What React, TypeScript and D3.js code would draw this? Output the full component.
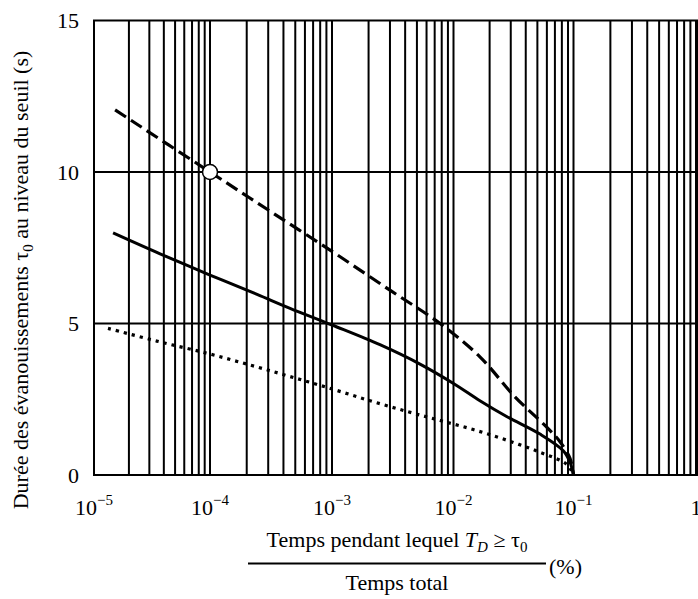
import React from "react";
import * as d3 from "d3";

// Tick values
const xTickExponents = [-5, -4, -3, -2, -1, 0];
const yTickValues = [0, 5, 10, 15];
const yGridValues = [5, 10];

// Series: dashed (upper)
const dashedX = [1.52e-5, 1e-4, 3.1e-4, 1e-3, 3.0e-3, 7.75e-3, 0.0166, 0.0325, 0.0598, 0.0772, 0.0935, 0.1];
const dashedY = [12.05, 10.0, 8.71, 7.38, 6.1, 5.0, 3.9, 2.58, 1.58, 1.1, 0.55, 0];

// Series: solid (middle)
const solidX = [1.46e-5, 3.71e-5, 1e-4, 2.43e-4, 4.53e-4, 1e-3, 2.48e-3, 5.3e-3, 1e-2, 0.0166, 0.0277, 0.0526, 0.0822, 0.0935, 0.1];
const solidY = [7.99, 7.3, 6.6, 5.96, 5.5, 4.95, 4.3, 3.66, 3.02, 2.45, 1.93, 1.35, 0.8, 0.42, 0];

// Series: dotted (lower)
const dottedX = [1.32e-5, 3.47e-5, 9.37e-5, 2.13e-4, 4.53e-4, 1e-3, 2.06e-3, 4.12e-3, 7.75e-3, 0.01462, 0.0277, 0.0526, 0.0878, 0.1];
const dottedY = [4.84, 4.42, 4.02, 3.63, 3.25, 2.84, 2.45, 2.1, 1.8, 1.5, 1.15, 0.75, 0.35, 0];

// Marked point
const markerX = [1e-4];
const markerY = [10];

const FF = '"Liberation Serif"';
const big = { fontFamily: FF, fontSize: "22px" };
const small = { fontFamily: FF, fontSize: "15px" };

export default function App() {
  const left = 94;
  const top = 20.5;
  const bottom = 475;
  const right = 697;

  const x = d3
    .scaleLog()
    .domain([1e-5, 1e-4, 1e-3, 1e-2, 1e-1, 1])
    .range([94, 210, 332, 453.5, 573.5, 696]);
  const y = d3.scaleLinear().domain([0, 15]).range([bottom, top]);

  const gridX: number[] = [];
  for (let e = -5; e < 0; e++) {
    for (let i = 1; i <= 9; i++) gridX.push(i * Math.pow(10, e));
  }
  gridX.push(1);

  const line = d3
    .line<[number, number]>()
    .x((d) => x(d[0]))
    .y((d) => y(d[1]))
    .curve(d3.curveCatmullRom.alpha(0.5));

  const zip = (a: number[], b: number[]) => a.map((v, i) => [v, b[i]] as [number, number]);

  return (
    <svg width={698} height={599} style={{ position: "absolute", left: 0, top: 0, fontFamily: FF }}>
      <rect x={0} y={0} width={698} height={599} fill="#fff" />
      {gridX.map((v, i) => (
        <line key={"gx" + i} x1={x(v)} x2={x(v)} y1={top} y2={bottom} stroke="#000" strokeWidth={2} />
      ))}
      {yGridValues.map((v) => (
        <line key={"gy" + v} x1={left} x2={right} y1={y(v)} y2={y(v)} stroke="#000" strokeWidth={2} />
      ))}
      <rect x={left} y={top} width={right - left} height={bottom - top} fill="none" stroke="#000" strokeWidth={2} />

      <path d={line(zip(dottedX, dottedY)) || ""} fill="none" stroke="#000" strokeWidth={3.2} strokeDasharray="3.2,5" />
      <path d={line(zip(solidX, solidY)) || ""} fill="none" stroke="#000" strokeWidth={3} />
      <path d={line(zip(dashedX, dashedY)) || ""} fill="none" stroke="#000" strokeWidth={3.2} strokeDasharray="13,6" />

      {markerX.map((v, i) => (
        <circle key={"m" + i} cx={x(v)} cy={y(markerY[i])} r={7.5} fill="#fff" stroke="#000" strokeWidth={1.5} />
      ))}

      {yTickValues.map((v) => (
        <text key={"yt" + v} style={big} x={79} y={y(v) + 7.5} textAnchor="end">
          {v}
        </text>
      ))}

      {xTickExponents.map((e) => (
        <text key={"xt" + e} style={big} x={x(Math.pow(10, e))} y={515} textAnchor="middle">
          {e === 0 ? (
            "1"
          ) : (
            <>
              10
              <tspan dy={-10} style={small}>
                {"\u2212" + Math.abs(e)}
              </tspan>
            </>
          )}
        </text>
      ))}

      <text style={big} x={397} y={547} textAnchor="middle">
        Temps pendant lequel{" "}
        <tspan fontStyle="italic">T</tspan>
        <tspan dy={5} style={small} fontStyle="italic">D</tspan>
        <tspan dy={-5}>{" \u2265 \u03c4"}</tspan>
        <tspan dy={5} style={small}>0</tspan>
      </text>
      <line x1={248} x2={546} y1={563.5} y2={563.5} stroke="#000" strokeWidth={2} />
      <text style={big} x={397} y={590} textAnchor="middle">
        Temps total
      </text>
      <text style={big} x={549} y={574}>
        (%)
      </text>

      <text style={big} transform="translate(28,280) rotate(-90)" textAnchor="middle">
        Durée des évanouissements {"\u03c4"}
        <tspan dy={5} style={small}>0</tspan>
        <tspan dy={-5}> au niveau du seuil (s)</tspan>
      </text>
    </svg>
  );
}
